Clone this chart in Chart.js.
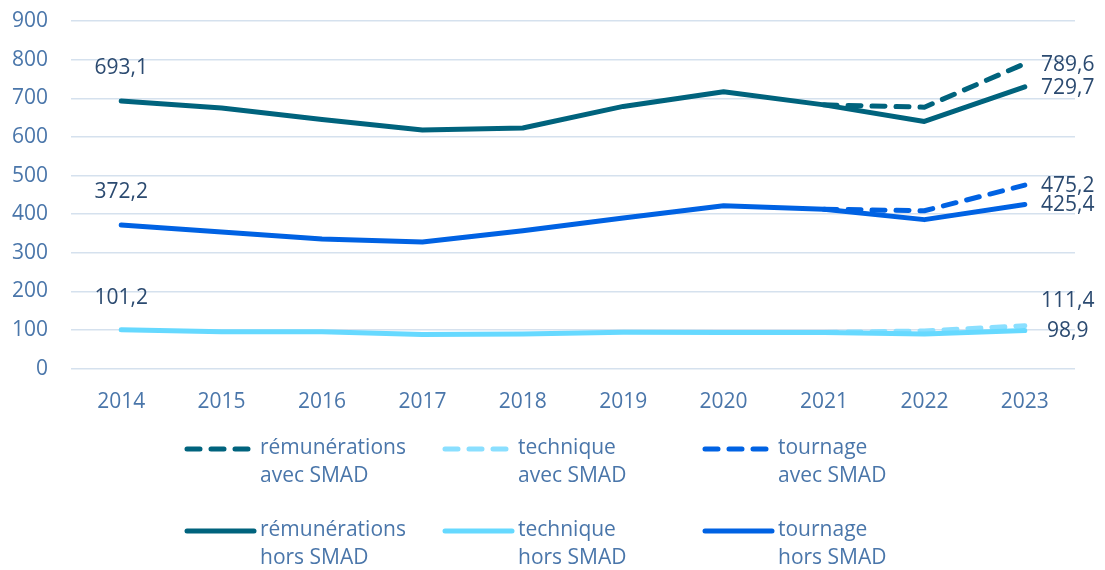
<!DOCTYPE html>
<html>
<head>
<meta charset="utf-8">
<script src="https://cdn.jsdelivr.net/npm/chart.js@4/dist/chart.umd.min.js"></script>
<style>
  body { margin: 0; background: #fff; }
  canvas { display: block; }
</style>
</head>
<body>
<canvas id="chart" width="1105" height="570"></canvas>
<script>
const years = ['2014', '2015', '2016', '2017', '2018', '2019', '2020', '2021', '2022', '2023'];

const remunHors = [693.1, 675, 645, 618, 623, 679, 717, 683, 640, 729.7];
const remunAvec = [null, null, null, null, null, null, null, 683, 677, 789.6];
const techHors = [101.2, 95.6, 96, 88.6, 90, 94.6, 94, 94, 90, 98.9];
const techAvec = [null, null, null, null, null, null, null, 94, 98, 111.4];
const tournHors = [372.2, 354, 336, 328, 357, 390, 422, 413, 386, 425.4];
const tournAvec = [null, null, null, null, null, null, null, 413, 409, 475.2];

const yTicks = [0, 100, 200, 300, 400, 500, 600, 700, 800, 900];

const TEAL = '#00637d';
const CYAN = '#66d9ff';
const CYAN_LIGHT = '#8adfff';
const BLUE = '#0062e3';
const FONT = '"Open Sans", "Noto Sans", sans-serif';
const SIZE = 21;

const fmt = v => v.toFixed(1).replace('.', ',');

function line(label, data, color, dashed, order) {
    return {
        label: label,
        data: data,
        borderColor: color,
        backgroundColor: color,
        borderWidth: 5,
        borderDash: dashed ? [13, 11] : [],
        borderCapStyle: 'round',
        borderJoinStyle: 'round',
        pointRadius: 0,
        tension: 0,
        fill: false,
        order: order
    };
}

const datasets = [
    line(['rémunérations', 'avec SMAD'], remunAvec, TEAL, true, 2),
    line(['technique', 'avec SMAD'], techAvec, CYAN_LIGHT, true, 2),
    line(['tournage', 'avec SMAD'], tournAvec, BLUE, true, 2),
    line(['rémunérations', 'hors SMAD'], remunHors, TEAL, false, 1),
    line(['technique', 'hors SMAD'], techHors, CYAN, false, 1),
    line(['tournage', 'hors SMAD'], tournHors, BLUE, false, 1)
];

// which points get a value label: [dataset index, point index, dx, dy]
const valueLabels = [
    [3, 0, 0, -33],
    [5, 0, 0, -33],
    [4, 0, 0, -32],
    [0, 9, 43, 1],
    [3, 9, 43, 1],
    [2, 9, 43, 1],
    [5, 9, 43, 1],
    [1, 9, 43, -25],
    [4, 9, 43, 0]
];

const valueLabelPlugin = {
    id: 'valueLabels',
    afterDatasetsDraw(chart) {
        const ctx = chart.ctx;
        ctx.save();
        ctx.font = SIZE + 'px ' + FONT;
        ctx.fillStyle = '#2b4a70';
        ctx.textBaseline = 'middle';
        ctx.textAlign = 'center';
        valueLabels.forEach(([di, pi, dx, dy]) => {
            const pt = chart.getDatasetMeta(di).data[pi];
            const v = chart.data.datasets[di].data[pi];
            ctx.fillText(fmt(v), pt.x + dx, pt.y + dy);
        });
        ctx.restore();
    }
};

// two rows of three items below the plot
const gridLegendPlugin = {
    id: 'gridLegend',
    afterDraw(chart) {
        const ctx = chart.ctx;
        const colX = [185, 443, 703];
        const rowY = [449, 531];
        ctx.save();
        ctx.font = SIZE + 'px ' + FONT;
        ctx.textAlign = 'left';
        ctx.textBaseline = 'middle';
        chart.data.datasets.forEach((ds, i) => {
            const x = colX[i % 3];
            const y = rowY[Math.floor(i / 3)];
            ctx.strokeStyle = ds.borderColor;
            ctx.lineWidth = 5;
            ctx.lineCap = 'round';
            ctx.setLineDash(ds.borderDash.length ? [13, 11] : []);
            ctx.beginPath();
            ctx.moveTo(x + 2, y);
            ctx.lineTo(x + (ds.borderDash.length ? 64 : 69), y);
            ctx.stroke();
            ctx.setLineDash([]);
            ctx.fillStyle = '#4a76aa';
            ds.label.forEach((t, k) => ctx.fillText(t, x + 75, y - 1 + k * 28));
        });
        ctx.restore();
    }
};

new Chart(document.getElementById('chart'), {
    type: 'line',
    data: {
        labels: years,
        datasets: datasets
    },
    options: {
        responsive: false,
        animation: false,
        layout: {
            padding: {left: 0, right: 30, top: 21, bottom: 142}
        },
        plugins: {
            legend: {display: false},
            tooltip: {enabled: false}
        },
        scales: {
            x: {
                offset: true,
                grid: {display: false},
                border: {display: false},
                ticks: {
                    color: '#4a76aa',
                    font: {family: FONT, size: SIZE},
                    padding: 13,
                    maxRotation: 0
                }
            },
            y: {
                min: 0,
                max: 900,
                afterFit(scale) {
                    scale.width = 71;
                    scale.paddingTop = 0;
                    scale.paddingBottom = 0;
                },
                afterBuildTicks(scale) { scale.ticks = yTicks.map(v => ({value: v})); },
                grid: {color: '#d5e1ee', lineWidth: 1.5, drawTicks: false},
                border: {display: false},
                ticks: {
                    color: '#4a76aa',
                    font: {family: FONT, size: SIZE},
                    padding: 23
                }
            }
        }
    },
    plugins: [valueLabelPlugin, gridLegendPlugin]
});
</script>
</body>
</html>
